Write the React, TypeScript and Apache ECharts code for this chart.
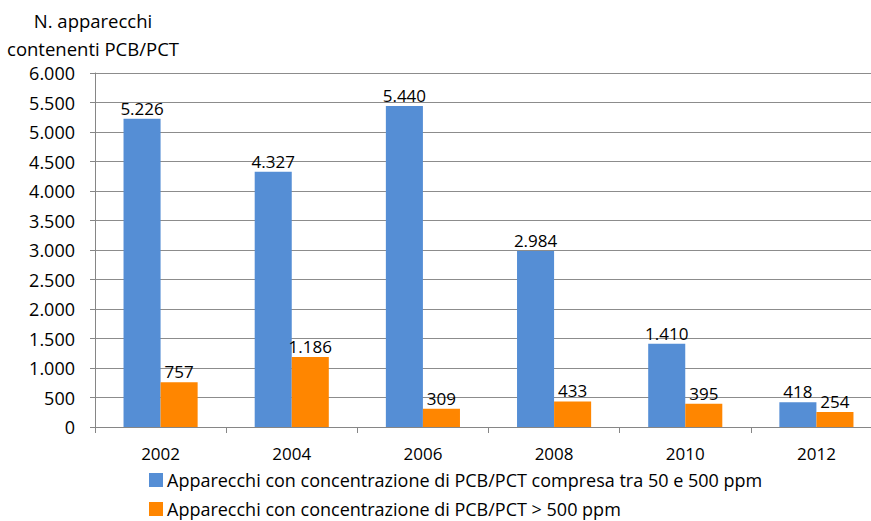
import React, { useEffect, useRef } from "react";
import * as echarts from "echarts";

const categories = ["2002", "2004", "2006", "2008", "2010", "2012"];
const seriesNames = [
  "Apparecchi con concentrazione di PCB/PCT compresa tra 50 e 500 ppm",
  "Apparecchi con concentrazione di PCB/PCT > 500 ppm",
];
const blueValues = [5226, 4327, 5440, 2984, 1410, 418];
const orangeValues = [757, 1186, 309, 433, 395, 254];
const yTitle = "N. apparecchi\ncontenenti PCB/PCT";

const fmt = (v: number) => String(v).replace(/\B(?=(\d{3})+(?!\d))/g, ".");
const FONT = "'Open Sans', 'Noto Sans', sans-serif";

export default function App() {
  const ref = useRef<HTMLDivElement>(null);
  useEffect(() => {
    if (!ref.current) return;
    const chart = echarts.init(ref.current, null, { renderer: "svg" });
    const legendCommon = {
      orient: "horizontal",
      left: 149,
      itemWidth: 14,
      itemHeight: 14,
      icon: "rect",
      padding: 0,
      textStyle: { fontSize: 18, color: "#000", fontFamily: FONT, padding: [0, 0, 0, -1] },
    };
    chart.setOption({
      animation: false,
      backgroundColor: "#ffffff",
      textStyle: { fontFamily: FONT },
      grid: { left: 95, top: 73, bottom: 94, right: 0, containLabel: false },
      graphic: [
        {
          type: "text",
          x: 93,
          y: 6,
          style: {
            text: yTitle,
            fontSize: 18.5,
            fontFamily: FONT,
            fill: "#000",
            align: "center",
            textAlign: "center",
            lineHeight: 28,
          },
        },
      ],
      legend: [
        { ...legendCommon, top: 471, data: [seriesNames[0]] },
        { ...legendCommon, top: 500, data: [seriesNames[1]] },
      ],
      xAxis: {
        type: "category",
        data: categories,
        axisLine: { lineStyle: { color: "#868686" } },
        axisTick: { show: true, length: 6, alignWithLabel: false, lineStyle: { color: "#868686" } },
        axisLabel: { fontSize: 17, color: "#000", margin: 18, fontFamily: FONT },
      },
      yAxis: {
        type: "value",
        min: 0,
        max: 6000,
        interval: 500,
        axisLine: { show: true, lineStyle: { color: "#868686" } },
        axisTick: { show: true, length: 5, inside: false, lineStyle: { color: "#868686" } },
        splitLine: { lineStyle: { color: "#8c8c8c" } },
        axisLabel: { fontSize: 18, color: "#000", margin: 20, fontFamily: FONT, formatter: (v: number) => fmt(v) },
      },
      series: [
        {
          name: seriesNames[0],
          type: "bar",
          data: blueValues,
          barGap: "0%",
          barCategoryGap: "43.5%",
          itemStyle: { color: "#558ED5" },
          label: { show: true, position: "top", distance: 2, fontSize: 17, color: "#000", fontFamily: FONT, formatter: (p: any) => fmt(p.value) },
        },
        {
          name: seriesNames[1],
          type: "bar",
          data: orangeValues,
          itemStyle: { color: "#FF8600" },
          label: { show: true, position: "top", distance: 2, fontSize: 17, color: "#000", fontFamily: FONT, formatter: (p: any) => fmt(p.value) },
        },
      ],
    });
    return () => chart.dispose();
  }, []);
  return (
    <div style={{ position: "fixed", left: 0, top: 0, width: 871, height: 521, overflow: "hidden" }}>
      <div ref={ref} style={{ width: 882, height: 521 }} />
    </div>
  );
}
